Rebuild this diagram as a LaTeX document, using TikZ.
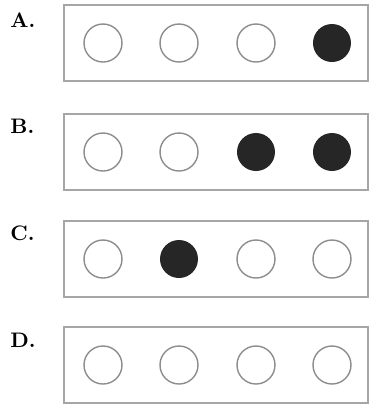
\documentclass[tikz,border=0pt]{standalone}
\usepackage{tikz}
\usetikzlibrary{positioning}

\begin{document}
\begin{tikzpicture}[
  x=0.5pt, y=-0.5pt,
  % --- option rows ---
  rowbox/.style={draw=black!35, line width=1pt, minimum width=152pt,
    minimum height=38pt, inner sep=0pt},
  lbl/.style={anchor=base west, inner sep=0pt,
    font=\fontsize{10.5}{12}\selectfont\bfseries},
  % --- dots ---
  dotbase/.style={circle, minimum size=19pt, inner sep=0pt},
  off/.style={dotbase, draw=black!45, line width=0.7pt},
  on/.style={dotbase, fill=black!85},
]
\useasboundingbox (0,0) rectangle (370,404);

% ===================== ROW A =====================
\node[lbl] (labA) at (10,27) {A.};
\node[rowbox] (boxA) at (216,43) {};
\node[off] (a1) at (103,43) {};
\node[off] (a2) at (179,43) {};
\node[off] (a3) at (256,43) {};
\node[on]  (a4) at (332,43) {};

% ===================== ROW B =====================
\node[lbl] (labB) at (10,133) {B.};
\node[rowbox] (boxB) at (216,152) {};
\node[off] (b1) at (103,152) {};
\node[off] (b2) at (179,152) {};
\node[on]  (b3) at (256,152) {};
\node[on]  (b4) at (332,152) {};

% ===================== ROW C =====================
\node[lbl] (labC) at (10,240) {C.};
\node[rowbox] (boxC) at (216,259) {};
\node[off] (c1) at (103,259) {};
\node[on]  (c2) at (179,259) {};
\node[off] (c3) at (256,259) {};
\node[off] (c4) at (332,259) {};

% ===================== ROW D =====================
\node[lbl] (labD) at (10,347) {D.};
\node[rowbox] (boxD) at (216,365) {};
\node[off] (d1) at (103,365) {};
\node[off] (d2) at (179,365) {};
\node[off] (d3) at (256,365) {};
\node[off] (d4) at (332,365) {};

\end{tikzpicture}
\end{document}
